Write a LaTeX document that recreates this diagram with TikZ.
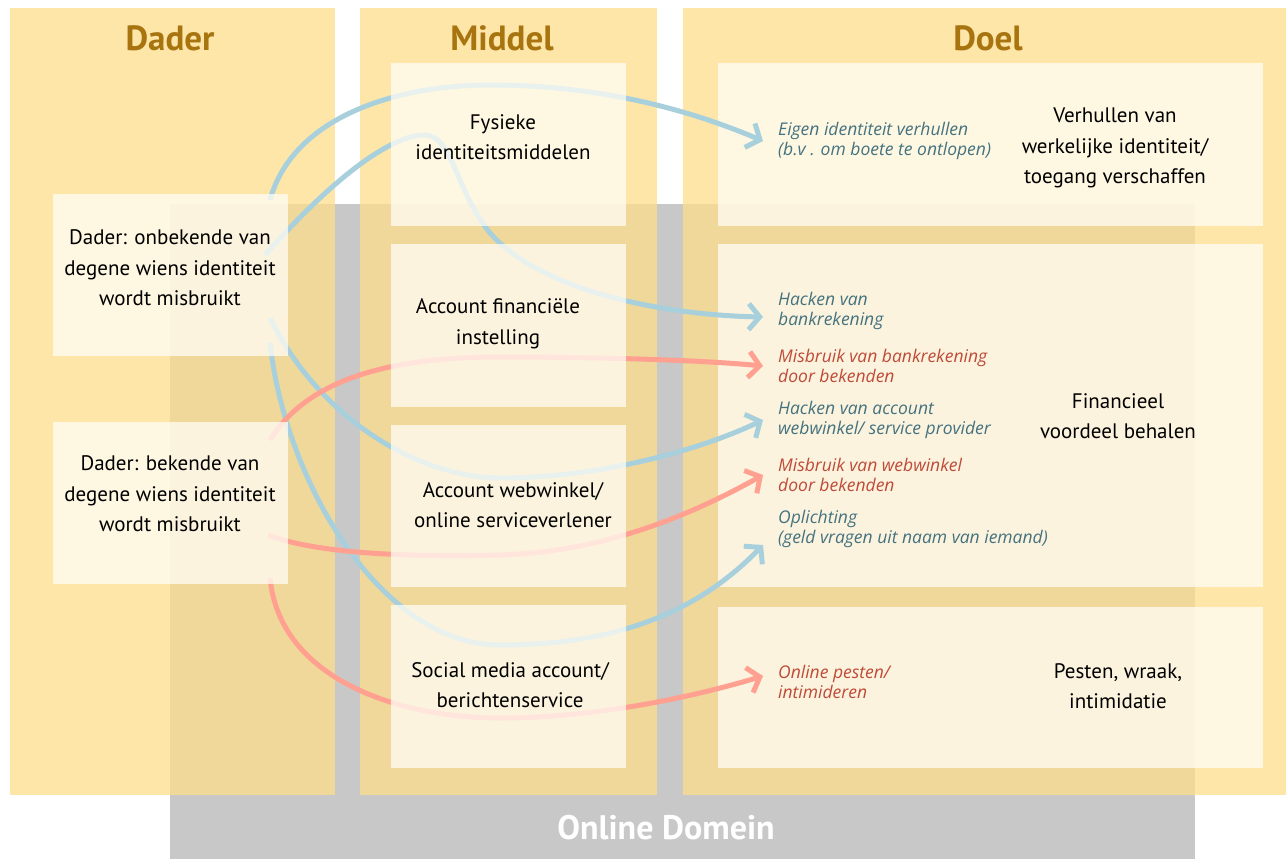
\documentclass[tikz,border=0pt]{standalone}
\usepackage{fontspec}
\setmainfont{PT Sans}
\newfontfamily\itfont{Open Sans}
\usetikzlibrary{arrows.meta,calc}
\definecolor{colY}{HTML}{FEDE8B}
\definecolor{domgray}{HTML}{C8C8C8}
\definecolor{boxw}{HTML}{FFFDF6}
\definecolor{headc}{HTML}{A87410}
\definecolor{bluet}{HTML}{44727F}
\definecolor{redt}{HTML}{BF4A38}
\definecolor{bluea}{HTML}{A8D0DC}
\definecolor{reda}{HTML}{FFA090}
\begin{document}
\begin{tikzpicture}[x=1pt,y=-1pt,
  column/.style={fill=colY,fill opacity=0.75,draw=none},
  box/.style={fill=boxw,fill opacity=0.75,draw=none},
  head/.style={text=headc,font=\fontsize{35}{40}\selectfont\bfseries},
  maintext/.style={align=center,inner sep=0pt,font=\fontsize{21}{30.5}\selectfont,text=black},
  doeltext/.style={align=left,anchor=west,inner sep=0pt,font=\fontsize{17.5}{20.5}\selectfont\itfont\itshape},
  bt/.style={doeltext,text=bluet},
  rt/.style={doeltext,text=redt},
  conn/.style={line width=5pt,-{Straight Barb[length=11pt,width=26pt]}},
  barrow/.style={conn,draw=bluea},
  rarrow/.style={conn,draw=reda}]
\useasboundingbox (0,0) rectangle (1286,859);
\fill[white] (0,0) rectangle (1286,859);
% online domain
\fill[domgray] (170,204) rectangle (1195,859);
% columns
\fill[column] (10,8) rectangle (335,795);
\fill[column] (360,8) rectangle (657,795);
\fill[column] (683,8) rectangle (1286,795);
\node[head] (hdader) at (170,38) {Dader};
\node[head] (hmiddel) at (502,38) {Middel};
\node[head] (hdoel) at (988,38) {Doel};
\node[text=white,font=\fontsize{34}{38}\selectfont\bfseries] (online) at (666,828) {Online Domein};
% Doel boxes
\fill[box] (718,63) rectangle (1263,226);
\fill[box] (718,244) rectangle (1263,587);
\fill[box] (718,607) rectangle (1263,768);
% Doel texts
\node[bt] (t1) at (778,141) {Eigen identiteit verhullen\\(b.v . om boete te ontlopen)};
\node[bt] (t2) at (778,311) {Hacken van\\bankrekening};
\node[rt] (t3) at (778,366) {Misbruik van bankrekening\\door bekenden};
\node[bt] (t4) at (778,420) {Hacken van account\\webwinkel/ service provider};
\node[rt] (t5) at (778,475) {Misbruik van webwinkel\\door bekenden};
\node[bt] (t6) at (778,529) {Oplichting\\(geld vragen uit naam van iemand)};
\node[rt] (t7) at (778,682) {Online pesten/\\intimideren};
\node[maintext] (g1) at (1115,148) {Verhullen van\\werkelijke identiteit/\\toegang verschaffen};
\node[maintext] (g2) at (1118,416) {Financieel\\voordeel behalen};
\node[maintext] (g3) at (1118,686) {Pesten, wraak,\\intimidatie};
% start coordinates
\coordinate (s1) at (270,200);
\coordinate (s2) at (265,255);
\coordinate (s3) at (270,318);
\coordinate (s4) at (270,343);
\coordinate (s5) at (270,440);
\coordinate (s6) at (268,535);
\coordinate (s7) at (270,578);
\coordinate (e1) at ($(t1.west)+(-15,0)$);
\coordinate (e2) at ($(t2.west)+(-15,6)$);
\coordinate (e3) at ($(t3.west)+(-15,0)$);
\coordinate (e4) at ($(t4.west)+(-15,0)$);
\coordinate (e5) at ($(t5.west)+(-15,0)$);
\coordinate (e6) at ($(t6.west)+(-15,16)$);
\coordinate (e7) at ($(t7.west)+(-15,-6)$);
% arrows
\draw[barrow] (s1) .. controls (292,120) and (390,85) .. (491,85) .. controls (600,85) and (690,110) .. (e1);
\draw[barrow] (s2) .. controls (340,170) and (395,135) .. (424,135) .. controls (453,135) and (455,190) .. (490,233) .. controls (540,290) and (660,315) .. (e2);
\draw[barrow] (s3) .. controls (320,420) and (420,478) .. (500,478) .. controls (600,478) and (700,450) .. (e4);
\draw[barrow] (s4) .. controls (285,480) and (380,645) .. (500,645) .. controls (620,645) and (700,610) .. (e6);
\draw[rarrow] (s5) .. controls (310,375) and (400,357) .. (500,357) .. controls (600,357) and (700,360) .. (e3);
\draw[rarrow] (s6) .. controls (320,555) and (420,557) .. (500,555) .. controls (610,552) and (700,510) .. (e5);
\draw[rarrow] (s7) .. controls (280,680) and (400,718) .. (500,718) .. controls (600,718) and (700,695) .. (e7);
% Dader and Middel boxes (over arrows)
\fill[box] (53,194) rectangle (288,356);
\fill[box] (53,422) rectangle (288,584);
\fill[box] (391,63) rectangle (626,226);
\fill[box] (391,244) rectangle (626,407);
\fill[box] (391,425) rectangle (626,587);
\fill[box] (391,605) rectangle (626,768);
\node[maintext] (d1) at (170,268) {Dader: onbekende van\\degene wiens identiteit\\wordt misbruikt};
\node[maintext] (d2) at (170,494) {Dader: bekende van\\degene wiens identiteit\\wordt misbruikt};
\node[maintext] (m1) at (503,137) {Fysieke\\identiteitsmiddelen};
\node[maintext] (m2) at (498,324) {Account financiële\\instelling};
\node[maintext] (m3) at (513,505) {Account webwinkel/\\online serviceverlener};
\node[maintext] (m4) at (510,685) {Social media account/\\berichtenservice};
\end{tikzpicture}
\end{document}
